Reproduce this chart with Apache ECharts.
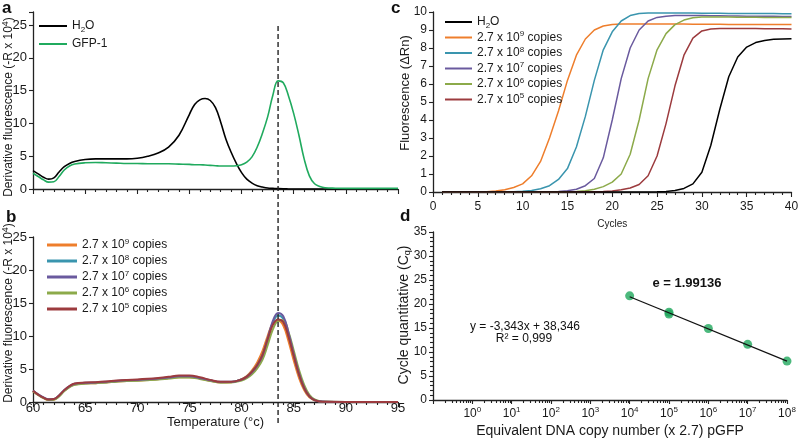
<!DOCTYPE html>
<html><head><meta charset="utf-8">
<script src="https://cdn.jsdelivr.net/npm/echarts@6/dist/echarts.min.js"></script>
<style>html,body{margin:0;padding:0;background:#fff}#chart{width:800px;height:438px}</style>
</head><body><div id="chart"></div>
<script>
// ---------- Panel a: melt curves (H2O vs GFP-1) ----------
const tempsA = [60, 60.5, 61, 61.5, 62, 62.5, 63, 63.5, 64, 65, 66, 67, 68, 69, 70, 71, 72, 73, 74, 75, 75.5, 76, 76.5, 77, 77.5, 78, 78.5, 79, 79.5, 80, 80.5, 81, 81.5, 82, 82.5, 83, 83.5, 84, 84.5, 85, 85.5, 86, 86.5, 87, 87.5, 88, 89, 90, 92, 95];
const h2oA = [2.8, 2.3, 1.8, 1.5, 1.7, 2.6, 3.4, 3.9, 4.2, 4.5, 4.6, 4.6, 4.6, 4.6, 4.7, 5.0, 5.5, 6.4, 8.2, 11.4, 12.9, 13.6, 13.8, 13.5, 12.4, 10.2, 7.6, 5.6, 3.9, 2.5, 1.5, 0.9, 0.5, 0.3, 0.15, 0.1, 0.05, 0.02, 0.01, 0, 0, 0, 0, 0, 0, 0, 0, 0, 0, 0];
const gfpA = [2.4, 1.9, 1.4, 1.05, 1.1, 1.9, 2.9, 3.5, 3.8, 4.0, 4.05, 4.0, 3.95, 3.9, 3.9, 3.85, 3.85, 3.85, 3.8, 3.75, 3.7, 3.7, 3.65, 3.6, 3.55, 3.5, 3.5, 3.5, 3.55, 3.7, 4.1, 4.9, 6.4, 8.5, 11.0, 14.3, 16.5, 16.2, 14.2, 11.5, 8.2, 4.6, 2.0, 0.8, 0.4, 0.2, 0.12, 0.1, 0.1, 0.1];

// ---------- Panel b: melt curves for dilutions ----------
const tempsB = [60, 60.5, 61, 61.5, 62, 62.5, 63, 63.5, 64, 65, 66, 67, 68, 69, 70, 71, 72, 73, 74, 75, 76, 77, 78, 79, 80, 80.5, 81, 81.5, 82, 82.5, 83, 83.5, 84, 84.5, 85, 85.5, 86, 86.5, 87, 87.5, 88, 90, 92, 95];
const b9 = [1.6, 1.05, 0.6, 0.3, 0.35, 0.9, 1.7, 2.3, 2.65, 2.8, 2.85, 2.95, 3.1, 3.2, 3.25, 3.35, 3.45, 3.6, 3.75, 3.75, 3.55, 3.2, 2.95, 3.0, 3.45, 3.95, 4.8, 6.0, 7.7, 10.0, 11.9, 12.3, 11.6, 9.2, 6.3, 3.7, 1.8, 0.7, 0.25, 0.08, 0.02, 0, 0, 0];
const b8 = [1.7, 1.1, 0.65, 0.38, 0.42, 0.95, 1.75, 2.35, 2.7, 2.85, 2.9, 3.0, 3.15, 3.25, 3.3, 3.4, 3.5, 3.65, 3.85, 3.85, 3.6, 3.25, 3.0, 3.02, 3.4, 3.85, 4.6, 5.6, 7.1, 9.5, 12.0, 13.1, 12.6, 10.2, 7.1, 4.2, 2.1, 0.85, 0.28, 0.09, 0.02, 0, 0, 0];
const b7 = [1.75, 1.15, 0.7, 0.4, 0.45, 1.0, 1.8, 2.4, 2.75, 2.9, 2.95, 3.05, 3.2, 3.3, 3.35, 3.45, 3.55, 3.7, 3.9, 3.9, 3.65, 3.3, 3.05, 3.05, 3.4, 3.8, 4.5, 5.5, 7.0, 9.6, 12.3, 13.5, 13.0, 10.5, 7.3, 4.4, 2.2, 0.9, 0.3, 0.1, 0.03, 0, 0, 0];
const b6 = [1.65, 1.1, 0.62, 0.33, 0.36, 0.85, 1.65, 2.25, 2.6, 2.8, 2.85, 2.95, 3.08, 3.18, 3.22, 3.3, 3.4, 3.55, 3.7, 3.72, 3.5, 3.18, 2.95, 2.95, 3.25, 3.6, 4.2, 5.1, 6.4, 8.6, 11.0, 12.3, 12.4, 10.6, 7.8, 4.9, 2.6, 1.1, 0.4, 0.13, 0.04, 0, 0, 0];
const b5 = [1.7, 1.12, 0.66, 0.38, 0.44, 1.0, 1.8, 2.42, 2.8, 2.95, 3.0, 3.1, 3.25, 3.35, 3.42, 3.52, 3.65, 3.82, 4.02, 4.02, 3.75, 3.35, 3.05, 3.05, 3.42, 3.85, 4.6, 5.6, 7.1, 9.5, 11.7, 12.5, 12.1, 9.9, 7.0, 4.2, 2.1, 0.85, 0.28, 0.09, 0.02, 0, 0, 0];
const dashTemp = 83.5;

// ---------- Panel c: amplification curves ----------
const cycles = [1, 2, 3, 4, 5, 6, 7, 8, 9, 10, 11, 12, 13, 14, 15, 16, 17, 18, 19, 20, 21, 22, 23, 24, 25, 26, 27, 28, 29, 30, 31, 32, 33, 34, 35, 36, 37, 38, 39, 40];
const cH2O = [0, 0, 0, 0, 0, 0, 0, 0, 0, 0, 0, 0, 0, 0, 0, 0, 0, 0, 0, 0, 0, 0, 0, 0, 0.01, 0.03, 0.08, 0.2, 0.45, 1.1, 2.6, 4.6, 6.4, 7.5, 8.05, 8.3, 8.42, 8.48, 8.5, 8.52];
const c9 = [0, 0, 0, 0.01, 0.01, 0.02, 0.05, 0.12, 0.25, 0.45, 0.9, 1.7, 3.0, 4.5, 6.2, 7.6, 8.5, 9.0, 9.22, 9.3, 9.33, 9.33, 9.33, 9.33, 9.33, 9.33, 9.33, 9.33, 9.32, 9.32, 9.32, 9.32, 9.31, 9.31, 9.31, 9.31, 9.3, 9.3, 9.3, 9.3];
const c8 = [0, 0, 0, 0, 0, 0, 0.01, 0.01, 0.02, 0.04, 0.08, 0.18, 0.35, 0.7, 1.3, 2.5, 4.2, 6.2, 7.9, 8.9, 9.5, 9.8, 9.92, 9.95, 9.95, 9.95, 9.94, 9.94, 9.94, 9.93, 9.93, 9.93, 9.92, 9.92, 9.92, 9.91, 9.91, 9.91, 9.9, 9.9];
const c7 = [0, 0, 0, 0, 0, 0, 0, 0, 0, 0, 0.01, 0.01, 0.02, 0.03, 0.07, 0.15, 0.35, 0.75, 1.9, 4.0, 6.3, 8.0, 9.0, 9.5, 9.7, 9.77, 9.8, 9.8, 9.8, 9.8, 9.79, 9.79, 9.78, 9.78, 9.77, 9.77, 9.76, 9.76, 9.75, 9.75];
const c6 = [0, 0, 0, 0, 0, 0, 0, 0, 0, 0, 0, 0, 0, 0.01, 0.02, 0.03, 0.07, 0.15, 0.3, 0.55, 1.0, 2.1, 4.0, 6.3, 7.9, 8.8, 9.3, 9.55, 9.68, 9.72, 9.72, 9.72, 9.72, 9.71, 9.71, 9.71, 9.7, 9.7, 9.7, 9.69];
const c5 = [0, 0, 0, 0, 0, 0, 0, 0, 0, 0, 0, 0, 0, 0, 0, 0.01, 0.01, 0.02, 0.03, 0.06, 0.12, 0.22, 0.42, 0.9, 2.0, 3.8, 5.9, 7.6, 8.55, 8.95, 9.05, 9.08, 9.08, 9.08, 9.08, 9.08, 9.07, 9.07, 9.07, 9.06];

// ---------- Panel d: standard curve ----------
const copiesD = [1e4, 1e5, 1e5, 1e6, 1e7, 1e8];
const cqD = [21.7, 17.9, 18.3, 14.9, 11.6, 8.1];
const fitX = [1e4, 1e8];
const fitY = [21.5, 8.1];

// ---------- labels ----------
const legendLabels = {
  'a:H2O': 'H{sub|2}O', 'a:GFP': 'GFP-1',
  'b:9': '2.7 x 10{sup|9} copies', 'b:8': '2.7 x 10{sup|8} copies', 'b:7': '2.7 x 10{sup|7} copies', 'b:6': '2.7 x 10{sup|6} copies', 'b:5': '2.7 x 10{sup|5} copies',
  'c:H2O': 'H{sub|2}O', 'c:9': '2.7 x 10{sup|9} copies', 'c:8': '2.7 x 10{sup|8} copies', 'c:7': '2.7 x 10{sup|7} copies', 'c:6': '2.7 x 10{sup|6} copies', 'c:5': '2.7 x 10{sup|5} copies'
};
const yTitleA = 'Derivative fluorescence (-R x 10{sup|4})';
const yTitleB = 'Derivative fluorescence (-R x 10{sup|4})';
const xTitleB = 'Temperature (°c)';
const yTitleC = 'Fluorescence (ΔRn)';
const xTitleC = 'Cycles';
const yTitleD = 'Cycle quantitative (C{sub|q})';
const xTitleD = 'Equivalent DNA copy number (x 2.7) pGFP';
const effText = 'e = 1.99136';
const eqText = 'y = -3,343x + 38,346';
const r2Text = 'R² = 0,999';

const COL = {orange:'#EE7E2C', teal:'#3A95AE', purple:'#6A5A9E', olive:'#8CAA4A', red:'#9C3B3E', green:'#20AA5E', black:'#000000', dot:'#1FA85C'};
const FONT = '"Liberation Sans", Arial, sans-serif';
const TXT = '#1a1a1a';
const rich = {
  sup: {fontSize: 8, padding: [0, 0, 7, 0], fontFamily: FONT, color: TXT},
  sub: {fontSize: 8, padding: [7, 0, 0, 0], fontFamily: FONT, color: TXT}
};
const richBig = {
  sup: {fontSize: 9, padding: [0, 0, 7, 0], fontFamily: FONT, fill: TXT},
  sub: {fontSize: 9, padding: [7, 0, 0, 0], fontFamily: FONT, fill: TXT}
};
const zip = (xs, ys) => xs.map((x, i) => [x, ys[i]]);
const TICK = {color: '#222', width: 1.1};

function axisBase(extra) {
  return Object.assign({
    axisLine: {show: true, onZero: false, lineStyle: {color: '#222', width: 1.3}},
    axisTick: {show: true, length: 4, lineStyle: TICK},
    axisLabel: {color: TXT, fontSize: 13, fontFamily: FONT, margin: 6, showMinLabel: true, showMaxLabel: true},
    splitLine: {show: false},
    nameTextStyle: {color: TXT, fontSize: 12, fontFamily: FONT, rich: rich}
  }, extra);
}

function legend(left, top, names, iconH, gap, iw) {
  return {
    orient: 'vertical', left: left, top: top, data: names, icon: 'rect', padding: 0,
    itemWidth: iw, itemHeight: iconH, itemGap: gap, selectedMode: false,
    formatter: n => legendLabels[n],
    textStyle: {fontSize: 12, lineHeight: 16, color: TXT, fontFamily: FONT, rich: rich}
  };
}

function lineS(name, xi, xs, ys, color, width, smooth) {
  return {
    type: 'line', name: name, xAxisIndex: xi, yAxisIndex: xi, data: zip(xs, ys),
    smooth: smooth, symbol: 'none', showSymbol: false,
    lineStyle: {color: color, width: width}, itemStyle: {color: color},
    emphasis: {disabled: true}, animation: false
  };
}

function vTitle(text, x, y, size) {
  return {type: 'text', x: x, y: y, rotation: Math.PI / 2, silent: true,
    style: {text: text, font: size + 'px ' + FONT, fill: TXT, align: 'center', verticalAlign: 'middle', rich: richBig}};
}

function gridAt(left, top, width, height) {
  return {left: left, top: top, width: width, height: height, containLabel: false, outerBoundsMode: 'none'};
}

const chart = echarts.init(document.getElementById('chart'), null, {renderer: 'canvas'});
chart.setOption({
  animation: false,
  backgroundColor: '#fff',
  grid: [
    gridAt(33, 12, 365, 177),
    gridAt(33, 237, 365, 165),
    gridAt(433, 12, 358.5, 180),
    gridAt(433, 232, 354, 168),
    gridAt(33, 23, 365, 400)
  ],
  xAxis: [
    axisBase({gridIndex: 0, type: 'value', min: 60, max: 95, interval: 5, axisLabel: {show: false},
      axisTick: {show: true, length: 5, lineStyle: TICK}, minorTick: {show: true, splitNumber: 5, length: 3, lineStyle: TICK}}),
    axisBase({gridIndex: 1, type: 'value', min: 60, max: 95, interval: 5,
      axisLabel: {color: TXT, fontSize: 13, fontFamily: FONT, margin: 0},
      axisTick: {show: true, length: 5, lineStyle: TICK}, minorTick: {show: true, splitNumber: 5, length: 3, lineStyle: TICK},
      name: xTitleB, nameLocation: 'middle', nameGap: 10, nameTextStyle: {color: TXT, fontSize: 13, fontFamily: FONT}}),
    axisBase({gridIndex: 2, type: 'value', min: 0, max: 40, interval: 5,
      axisTick: {show: true, length: 5, lineStyle: TICK}, minorTick: {show: true, splitNumber: 5, length: 3, lineStyle: TICK},
      axisLabel: {color: TXT, fontSize: 12, fontFamily: FONT, margin: 9},
      name: xTitleC, nameLocation: 'middle', nameGap: 27, nameTextStyle: {color: TXT, fontSize: 10, fontFamily: FONT}}),
    axisBase({gridIndex: 3, type: 'log', logBase: 10, min: 0.1, max: 1e8,
      minorTick: {show: true, splitNumber: 9, length: 3, lineStyle: TICK},
      axisLabel: {color: TXT, fontSize: 12, fontFamily: FONT, margin: 6, rich: rich,
        formatter: v => { const e = Math.round(Math.log10(v)); return e < 0 ? '' : '10{sup|' + e + '}'; }},
      name: xTitleD, nameLocation: 'middle', nameGap: 24, nameTextStyle: {color: TXT, fontSize: 14, fontFamily: FONT}}),
    {gridIndex: 4, type: 'value', min: 60, max: 95, show: false}
  ],
  yAxis: [
    axisBase({gridIndex: 0, type: 'value', min: 0, max: 27, interval: 5,
      axisLabel: {color: TXT, fontSize: 13, fontFamily: FONT, margin: 6, showMinLabel: true, formatter: v => (v % 5 === 0 ? String(v) : '')}}),
    axisBase({gridIndex: 1, type: 'value', min: 0, max: 25, interval: 5}),
    axisBase({gridIndex: 2, type: 'value', min: 0, max: 10, interval: 1,
      axisLabel: {color: TXT, fontSize: 12, fontFamily: FONT, margin: 6, showMinLabel: true}}),
    axisBase({gridIndex: 3, type: 'value', min: 0, max: 35, interval: 5,
      axisLabel: {color: TXT, fontSize: 12, fontFamily: FONT, margin: 6, showMinLabel: true},
      minorTick: {show: true, splitNumber: 5, length: 3, lineStyle: TICK}}),
    {gridIndex: 4, type: 'value', min: 0, max: 1, show: false}
  ],
  legend: [
    legend(39, 18, ['a:H2O', 'a:GFP'], 2, 2, 28),
    legend(47, 237, ['b:9', 'b:8', 'b:7', 'b:6', 'b:5'], 3, 0, 30),
    legend(445, 14, ['c:H2O', 'c:9', 'c:8', 'c:7', 'c:6', 'c:5'], 2, -0.5, 27)
  ],
  series: [
    lineS('a:H2O', 0, tempsA, h2oA, COL.black, 1.6, 0.4),
    lineS('a:GFP', 0, tempsA, gfpA, COL.green, 1.6, 0.4),
    lineS('b:9', 1, tempsB, b9, COL.orange, 2, 0.4),
    lineS('b:8', 1, tempsB, b8, COL.teal, 2, 0.4),
    lineS('b:6', 1, tempsB, b6, COL.olive, 2, 0.4),
    lineS('b:7', 1, tempsB, b7, COL.purple, 2, 0.4),
    lineS('b:5', 1, tempsB, b5, COL.red, 2, 0.4),
    lineS('c:9', 2, cycles, c9, COL.orange, 1.5, false),
    lineS('c:8', 2, cycles, c8, COL.teal, 1.5, false),
    lineS('c:7', 2, cycles, c7, COL.purple, 1.5, false),
    lineS('c:6', 2, cycles, c6, COL.olive, 1.5, false),
    lineS('c:5', 2, cycles, c5, COL.red, 1.5, false),
    lineS('c:H2O', 2, cycles, cH2O, COL.black, 1.5, false),
    lineS('d:fit', 3, fitX, fitY, '#111', 1.2, false),
    {type: 'scatter', name: 'd:pts', xAxisIndex: 3, yAxisIndex: 3, data: zip(copiesD, cqD),
      symbolSize: 9, itemStyle: {color: COL.dot}, emphasis: {disabled: true}},
    {type: 'line', name: 'dash', xAxisIndex: 4, yAxisIndex: 4, data: [[dashTemp, 0], [dashTemp, 1]],
      symbol: 'none', lineStyle: {color: '#222', width: 1.4, type: [5, 3]}, emphasis: {disabled: true}}
  ],
  graphic: [
    {type: 'text', left: 2, top: 0, style: {text: 'a', font: 'bold 17px ' + FONT, fill: '#111'}},
    {type: 'text', left: 6, top: 209, style: {text: 'b', font: 'bold 17px ' + FONT, fill: '#111'}},
    {type: 'text', left: 391, top: 0, style: {text: 'c', font: 'bold 17px ' + FONT, fill: '#111'}},
    {type: 'text', left: 400, top: 208, style: {text: 'd', font: 'bold 17px ' + FONT, fill: '#111'}},
    vTitle(yTitleA, 9, 107, 12),
    vTitle(yTitleB, 9, 313, 12),
    vTitle(yTitleC, 405, 93, 13),
    vTitle(yTitleD, 404, 315, 14),
    {type: 'text', x: 687, y: 283, style: {text: effText, font: 'bold 13px ' + FONT, fill: '#111', align: 'center', verticalAlign: 'middle'}},
    {type: 'text', x: 525, y: 327, style: {text: eqText, font: '12px ' + FONT, fill: '#111', align: 'center', verticalAlign: 'middle'}},
    {type: 'text', x: 524, y: 339, style: {text: r2Text, font: '12px ' + FONT, fill: '#111', align: 'center', verticalAlign: 'middle'}}
  ]
});
</script></body></html>
